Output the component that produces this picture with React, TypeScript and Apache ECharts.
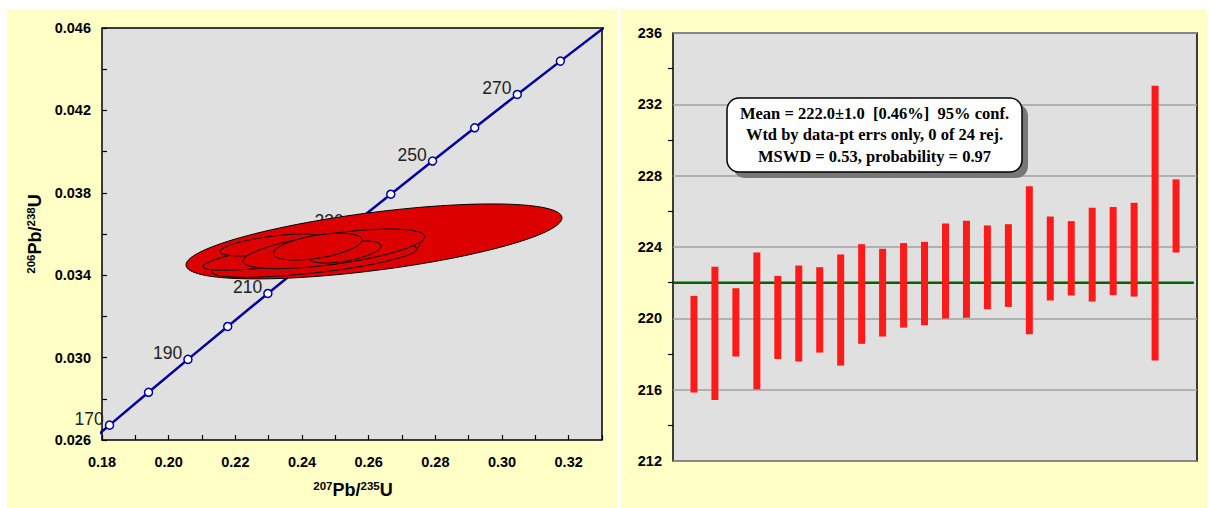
import React, { useEffect, useRef } from 'react';
import * as echarts from 'echarts';

// ---------- Concordia (left) ----------
const concAge = [160, 170, 180, 190, 200, 210, 220, 230, 240, 250, 260, 270, 280, 290];
const concX = [0.17068, 0.18226, 0.19396, 0.20578, 0.21771, 0.22976, 0.24192, 0.25421, 0.26663, 0.27916, 0.29181, 0.30459, 0.31752, 0.33057];
const concY = [0.025131, 0.026722, 0.028316, 0.029913, 0.031511, 0.033113, 0.034717, 0.036323, 0.037932, 0.039543, 0.041157, 0.042773, 0.044392, 0.046013];
const markerAges = [170, 180, 190, 200, 210, 220, 230, 240, 250, 260, 270, 280];
const labeledAges = [170, 190, 210, 230, 250, 270];

// error ellipses: centre, half-extent in x and y, correlation
const ellCx = [0.2616, 0.24555, 0.24465, 0.2437, 0.23835, 0.231, 0.2495, 0.2529, 0.2447];
const ellCy = [0.03564, 0.035102, 0.034932, 0.034723, 0.035063, 0.035466, 0.03528, 0.035126, 0.035384];
const ellDx = [0.0564, 0.03075, 0.03075, 0.0308, 0.02805, 0.0156, 0.02724, 0.0108, 0.01329];
const ellDy = [0.00182, 0.000922, 0.000874, 0.000825, 0.000825, 0.000534, 0.000961, 0.000534, 0.00065];
const ellRho = [0.627, 0.66, 0.67, 0.67, 0.78, 0.6, 0.62, 0.55, 0.5];

// ---------- Weighted mean (right) ----------
const barLow = [215.84, 215.42, 217.86, 216.02, 217.72, 217.58, 218.08, 217.35, 218.57, 218.98, 219.48, 219.61, 219.99, 220.03, 220.51, 220.64, 219.11, 221.0, 221.28, 220.94, 221.3, 221.22, 217.63, 223.69];
const barHigh = [221.26, 222.89, 221.69, 223.69, 222.38, 222.96, 222.87, 223.58, 224.16, 223.9, 224.22, 224.29, 225.32, 225.47, 225.21, 225.28, 227.4, 225.71, 225.45, 226.2, 226.24, 226.48, 233.04, 227.79];
const weightedMean = 222.0;
const meanLineX = [0, 24.85];
const boxLines = [
  'Mean = 222.0±1.0  [0.46%]  95% conf.',
  'Wtd by data-pt errs only, 0 of 24 rej.',
  'MSWD = 0.53, probability = 0.97',
];

const SANS = '"Liberation Sans", Arial, sans-serif';
const SERIF = '"Liberation Serif", "Times New Roman", serif';

function buildOption(): any {
  const concLine = concAge.map((_, i) => [concX[i], concY[i]]);
  const markers = markerAges.map((a) => {
    const i = concAge.indexOf(a);
    return {
      value: [concX[i], concY[i]],
      label: { show: labeledAges.includes(a), formatter: String(a) },
    };
  });
  const ellipses = ellCx.map((_, i) => [ellCx[i], ellCy[i], ellDx[i], ellDy[i], ellRho[i]]);
  const bars = barLow.map((lo, i) => [i + 1, lo, barHigh[i]]);

  const tickLabel = { fontFamily: SANS, fontWeight: 'bold', fontSize: 14.5, color: '#000' };
  const nameRich = {
    m: { fontSize: 18, fontWeight: 'bold', fontFamily: SANS, lineHeight: 21, fill: '#000' },
    s: { fontSize: 11.5, fontWeight: 'bold', fontFamily: SANS, lineHeight: 12, verticalAlign: 'top', fill: '#000' },
  };

  return {
    animation: false,
    backgroundColor: '#ffffff',
    graphic: [
      { type: 'rect', z: -100, shape: { x: 7, y: 9, width: 610, height: 499 }, style: { fill: '#FFFFC6' } },
      { type: 'rect', z: -100, shape: { x: 621, y: 9, width: 586, height: 499 }, style: { fill: '#FFFFC6' } },
      {
        type: 'text', z: 50, x: 353, y: 490,
        style: { text: '{s|207}{m|Pb/}{s|235}{m|U}', align: 'center', verticalAlign: 'middle', rich: nameRich },
      },
      {
        type: 'text', z: 50, x: 35, y: 234, rotation: Math.PI / 2,
        style: { text: '{s|206}{m|Pb/}{s|238}{m|U}', align: 'center', verticalAlign: 'middle', rich: nameRich },
      },
      { type: 'rect', z: 90, shape: { x: 733, y: 104, width: 295, height: 74, r: 12 }, style: { fill: '#777777' } },
      { type: 'rect', z: 91, shape: { x: 727, y: 98, width: 295, height: 74, r: 12 }, style: { fill: '#ffffff', stroke: '#000', lineWidth: 1.5 } },
      ...boxLines.map((t, i) => ({
        type: 'text', z: 92, x: 874.5, y: 113 + i * 21.5,
        style: { text: t, align: 'center', verticalAlign: 'middle', fontFamily: SERIF, fontWeight: 'bold', fontSize: 16.5, fill: '#000' },
      })),
    ],
    grid: [
      { left: 102, top: 28, right: 609, bottom: 68, show: true, backgroundColor: '#E0E0E0', borderColor: '#000', borderWidth: 1.5 },
      { left: 673, top: 33, right: 14, bottom: 47, show: true, backgroundColor: '#E0E0E0', borderColor: '#000', borderWidth: 1.5 },
    ],
    xAxis: [
      {
        type: 'value', gridIndex: 0, min: 0.18, max: 0.33, interval: 0.01,
        axisLine: { show: false },
        axisTick: { show: true, inside: true, length: 5, lineStyle: { color: '#000', width: 1.2 } },
        splitLine: { show: false },
        axisLabel: {
          ...tickLabel, margin: 14,
          formatter: (v: number) => { const k = Math.round(v * 100); return k % 2 === 0 ? (k / 100).toFixed(2) : ''; },
        },
      },
      {
        type: 'value', gridIndex: 1, min: 0, max: 25,
        axisLine: { show: false }, axisTick: { show: false }, axisLabel: { show: false }, splitLine: { show: false },
      },
    ],
    yAxis: [
      {
        type: 'value', gridIndex: 0, min: 0.026, max: 0.046, interval: 0.002,
        axisLine: { show: false },
        axisTick: { show: true, inside: true, length: 5, lineStyle: { color: '#000', width: 1.2 } },
        splitLine: { show: false },
        axisLabel: {
          ...tickLabel, margin: 11,
          formatter: (v: number) => { const k = Math.round(v * 1000); return (k - 26) % 4 === 0 ? (k / 1000).toFixed(3) : ''; },
        },
      },
      {
        type: 'value', gridIndex: 1, min: 212, max: 236, interval: 4,
        axisLine: { show: false },
        axisTick: { show: false },
        minorTick: { show: true, splitNumber: 2, length: 5, lineStyle: { color: '#000', width: 1.2 } },
        splitLine: { show: true, lineStyle: { color: '#A0A0A0', width: 1.5 } },
        axisLabel: { ...tickLabel, margin: 11 },
      },
    ],
    series: [
      {
        type: 'line', xAxisIndex: 0, yAxisIndex: 0, z: 2, data: concLine, showSymbol: false, clip: true,
        lineStyle: { color: '#0000A0', width: 2.5 }, silent: true,
      },
      {
        type: 'scatter', xAxisIndex: 0, yAxisIndex: 0, z: 3, data: markers, symbol: 'circle', symbolSize: 8,
        itemStyle: { color: '#ffffff', borderColor: '#0000A0', borderWidth: 1.5, opacity: 1 },
        label: { position: 'left', distance: 1, offset: [0, -6], fontFamily: SANS, fontSize: 17.5, color: '#222' },
      },
      {
        type: 'custom', xAxisIndex: 0, yAxisIndex: 0, z: 10, data: ellipses,
        renderItem: (params: any, api: any) => {
          const cx = api.value(0), cy = api.value(1), dx = api.value(2), dy = api.value(3), rho = api.value(4);
          const s = Math.sqrt(1 - rho * rho);
          const pts: number[][] = [];
          const n = 120;
          for (let k = 0; k < n; k++) {
            const t = (k / n) * Math.PI * 2;
            pts.push(api.coord([cx + dx * Math.cos(t), cy + dy * (rho * Math.cos(t) + s * Math.sin(t))]));
          }
          return { type: 'polygon', shape: { points: pts }, style: { fill: '#DD0000', stroke: '#000', lineWidth: 1 } };
        },
      },
      {
        type: 'line', xAxisIndex: 1, yAxisIndex: 1, z: 2, showSymbol: false,
        data: meanLineX.map((x) => [x, weightedMean]),
        lineStyle: { color: '#006400', width: 2.5 },
      },
      {
        type: 'custom', xAxisIndex: 1, yAxisIndex: 1, z: 5, data: bars,
        renderItem: (params: any, api: any) => {
          const top = api.coord([api.value(0), api.value(2)]);
          const bot = api.coord([api.value(0), api.value(1)]);
          const w = 7;
          return {
            type: 'rect',
            shape: { x: top[0] - w / 2, y: top[1], width: w, height: bot[1] - top[1] },
            style: { fill: '#FF1A1A' },
          };
        },
      },
    ],
  };
}

export default function App() {
  const ref = useRef<HTMLDivElement>(null);
  useEffect(() => {
    const chart = echarts.init(ref.current!, null, { renderer: 'svg' });
    chart.setOption(buildOption());
    return () => chart.dispose();
  }, []);
  return <div ref={ref} style={{ position: 'fixed', left: 0, top: 0, width: 1211, height: 508 }} />;
}
